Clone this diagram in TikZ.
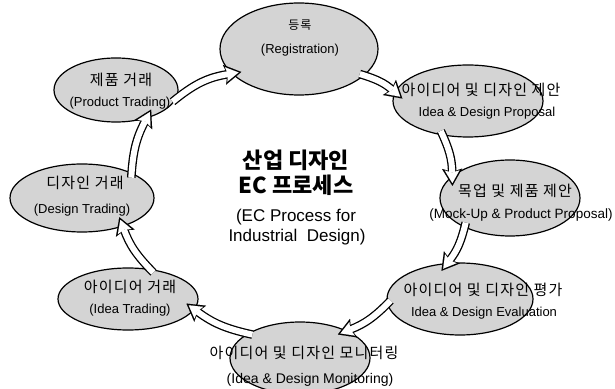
\documentclass[tikz,border=0pt]{standalone}
\usepackage{fontspec}
\setmainfont{Liberation Sans}
\newfontfamily\kr{Noto Sans CJK KR}
\newfontfamily\krlab[LetterSpace=8]{Noto Sans CJK KR}
\usetikzlibrary{arrows.meta,shapes.geometric}

\tikzset{
  stage/.style={ellipse, draw=black, line width=1.2pt, fill=black!17, inner sep=0pt},
  krlabel/.style={font=\krlab\fontsize{15}{18}\selectfont, inner sep=0pt},
  enlabel/.style={font=\fontsize{13}{15}\selectfont, inner sep=0pt},
  title/.style={font=\kr\bfseries\fontsize{22}{26}\selectfont, inner sep=0pt},
  subtitle/.style={font=\fontsize{17}{20}\selectfont, inner sep=0pt},
  % band arrow: black outline drawn first, white body on top
  flow/.style={
    preaction={draw=black, line width=8.6pt, shorten <=-5pt, shorten >=-10pt,
      -{Stealth[length=17pt, width=20pt, inset=3pt, line width=0.01pt]}},
    draw=white, line width=6pt, shorten <=-5pt, shorten >=-7.2pt,
    -{Stealth[length=12.5pt, width=14.5pt, inset=2pt, line width=0.01pt]}}
}

\begin{document}
\begin{tikzpicture}[x=1pt, y=1pt]
\useasboundingbox (0,0) rectangle (615,388);

% stages of the cycle
\node[stage, minimum width=158, minimum height=92] (reg)    at (299,339) {};
\node[stage, minimum width=150, minimum height=72] (prop)   at (468,287) {};
\node[stage, minimum width=140, minimum height=76] (mock)   at (510,190) {};
\node[stage, minimum width=146, minimum height=72] (eval)   at (460,89)  {};
\node[stage, minimum width=140, minimum height=72] (mon)    at (300,30)  {};
\node[stage, minimum width=140, minimum height=62] (ideatr) at (128,89)  {};
\node[stage, minimum width=144, minimum height=68] (destr)  at (82,190)  {};
\node[stage, minimum width=124, minimum height=64] (prodtr) at (116,298) {};

% clockwise flow
\draw[flow] (prodtr.-8)  to[bend left=15] (reg.200);
\draw[flow] (reg.-22)    to[bend left=12] (prop.173);
\draw[flow] (prop.234)   to[bend left=12] (mock.159);
\draw[flow] (mock.213)   to[bend left=12] (eval.109);
\draw[flow] (eval.184)   to[bend left=12] (mon.30);
\draw[flow] (mon.155)    to[bend left=12] (ideatr.-9);
\draw[flow] (ideatr.54)  to[bend left=12] (destr.-35);
\draw[flow] (destr.27)   to[bend left=12] (prodtr.-43);

% labels
\node[krlabel, font=\krlab\fontsize{12}{14}\selectfont] (regK) at (300,363) {등록};
\node[enlabel] (regE) at (300,338) {(Registration)};
\node[krlabel] (propK) at (481,298) {아이디어 및 디자인 제안};
\node[enlabel] (propE) at (487,275) {Idea \& Design Proposal};
\node[krlabel] (mockK) at (515,197) {목업 및 제품 제안};
\node[enlabel, font=\fontsize{13.5}{15}\selectfont] (mockE) at (521,173) {(Mock-Up \& Product Proposal)};
\node[krlabel] (evalK) at (483,98) {아이디어 및 디자인 평가};
\node[enlabel] (evalE) at (484,75) {Idea \& Design Evaluation};
\node[krlabel] (monK) at (304,35) {아이디어 및 디자인 모니터링};
\node[enlabel, font=\fontsize{14}{16}\selectfont] (monE) at (310,8) {(Idea \& Design Monitoring)};
\node[krlabel] (ideatrK) at (130,101) {아이디어 거래};
\node[enlabel] (ideatrE) at (130,78) {(Idea Trading)};
\node[krlabel] (destrK) at (85,205) {디자인 거래};
\node[enlabel] (destrE) at (82,178) {(Design Trading)};
\node[krlabel] (prodtrK) at (121,308) {제품 거래};
\node[enlabel] (prodtrE) at (120,285) {(Product Trading)};

% centre title
\node[title] (t1) at (296,228) {산업 디자인};
\node[title] (t2) at (296,203) {EC 프로세스};
\node[subtitle] (t3) at (296,171) {(EC Process for};
\node[subtitle] (t4) at (297,151) {Industrial\ \ Design)};
\end{tikzpicture}
\end{document}
